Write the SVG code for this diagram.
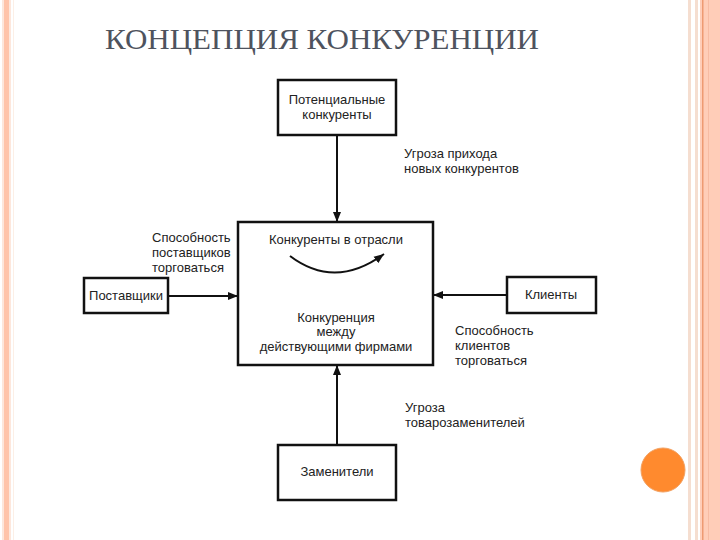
<svg xmlns="http://www.w3.org/2000/svg" width="720" height="540" viewBox="0 0 720 540">
<style>
.box{fill:#fff;stroke:#111;stroke-width:2.5}
.t{font-family:"Liberation Sans",Arial,sans-serif;font-size:13px;fill:#222}
.c{text-anchor:middle}
.ln{stroke:#111;stroke-width:2;fill:none}
</style>
<defs>
<marker id="ah2" viewBox="0 0 10 10" refX="10" refY="5" markerWidth="10" markerHeight="10" orient="auto" markerUnits="userSpaceOnUse">
<path d="M0,1 L10,5 L0,9 z" fill="#111"/>
</marker>
</defs>
<rect width="720" height="540" fill="#fff"/>
<g id="frame">
<rect x="2" y="0" width="9" height="540" fill="#FDE7DC"/>
<rect x="4" y="0" width="5" height="540" fill="#FFC4AA"/>
<rect x="13" y="0" width="1" height="540" fill="#FCEFE6"/>
<rect x="688" y="0" width="3" height="540" fill="#F5DED0"/>
<rect x="695" y="0" width="3" height="540" fill="#F5DED0"/>
<rect x="700" y="0" width="20" height="540" fill="#FFCDB8"/>
<rect x="702" y="0" width="1.5" height="540" fill="#EE9A72"/>
<rect x="708" y="0" width="1" height="540" fill="#F7BBA3"/>
<circle cx="663" cy="470" r="22" fill="#FF8A2E" stroke="#F2A060" stroke-width="1"/>
</g>
<text x="105" y="49" textLength="434" lengthAdjust="spacingAndGlyphs" font-family="Liberation Serif,'Times New Roman',serif" font-size="30" fill="#4e535e">КОНЦЕПЦИЯ КОНКУРЕНЦИИ</text>
<g id="connectors">
<line class="ln" x1="337" y1="135" x2="337" y2="222" marker-end="url(#ah2)"/>
<line class="ln" x1="337" y1="445" x2="337" y2="365" marker-end="url(#ah2)"/>
<line class="ln" x1="168" y1="296" x2="238" y2="296" marker-end="url(#ah2)"/>
<line class="ln" x1="507" y1="295" x2="433" y2="295" marker-end="url(#ah2)"/>
</g>
<g id="n-potential">
<rect class="box" x="278" y="80" width="118" height="55"/>
<text class="t c" x="337" y="104">Потенциальные</text>
<text class="t c" x="337" y="119">конкуренты</text>
</g>
<g id="n-center">
<rect class="box" x="238" y="222" width="195" height="143"/>
<text class="t c" x="336" y="244">Конкуренты в отрасли</text>
<path d="M290,256 Q335,290 384,254" class="ln" marker-end="url(#ah2)"/>
<text class="t c" x="336" y="322">Конкуренция</text>
<text class="t c" x="336" y="336">между</text>
<text class="t c" x="336" y="351">действующими фирмами</text>
</g>
<g id="n-suppliers">
<rect class="box" x="84" y="278" width="84" height="35"/>
<text class="t c" x="126" y="300">Поставщики</text>
</g>
<g id="n-clients">
<rect class="box" x="507" y="277" width="89" height="36"/>
<text class="t c" x="551" y="299">Клиенты</text>
</g>
<g id="n-substitutes">
<rect class="box" x="278" y="445" width="118" height="55"/>
<text class="t c" x="337" y="476">Заменители</text>
</g>
<g id="labels">
<text class="t" x="404" y="158">Угроза прихода</text>
<text class="t" x="404" y="173">новых конкурентов</text>
<text class="t" x="152" y="242">Способность</text>
<text class="t" x="152" y="257">поставщиков</text>
<text class="t" x="152" y="272">торговаться</text>
<text class="t" x="455" y="335">Способность</text>
<text class="t" x="455" y="350">клиентов</text>
<text class="t" x="455" y="365">торговаться</text>
<text class="t" x="405" y="412">Угроза</text>
<text class="t" x="405" y="427">товарозаменителей</text>
</g>
</svg>
